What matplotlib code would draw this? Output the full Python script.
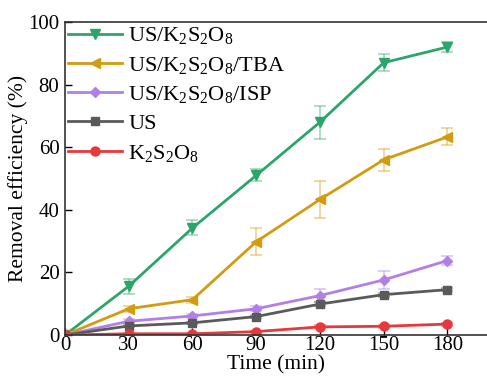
import matplotlib
matplotlib.use("Agg")
import matplotlib.pyplot as plt

plt.rcParams["font.family"] = "Liberation Serif"
plt.rcParams["mathtext.fontset"] = "custom"
plt.rcParams["mathtext.rm"] = "Liberation Serif"
plt.rcParams["mathtext.it"] = "Liberation Serif:italic"

time = [0, 30, 60, 90, 120, 150, 180]

labels = [
    r"US/K$\mathregular{_2}$S$\mathregular{_2}$O$\mathregular{_8}$",
    r"US/K$\mathregular{_2}$S$\mathregular{_2}$O$\mathregular{_8}$/TBA",
    r"US/K$\mathregular{_2}$S$\mathregular{_2}$O$\mathregular{_8}$/ISP",
    "US",
    r"K$\mathregular{_2}$S$\mathregular{_2}$O$\mathregular{_8}$",
]

us_ps = [0, 15.6, 34.2, 51.0, 68.0, 87.0, 92.0]
us_ps_err = [0, 2.4, 2.4, 1.9, 5.3, 2.8, 1.6]
us_ps_tba = [0, 8.4, 11.3, 29.8, 43.3, 56.0, 63.3]
us_ps_tba_err = [0, 1.0, 1.0, 4.3, 6.0, 3.5, 2.7]
us_ps_isp = [0, 4.4, 6.1, 8.4, 12.6, 17.6, 23.8]
us_ps_isp_err = [0, 0.6, 0.6, 0.8, 2.0, 3.0, 1.5]
us_only = [0, 2.9, 3.9, 5.9, 9.9, 12.9, 14.5]
us_only_err = [0, 0.4, 0.4, 0.5, 0.6, 0.6, 0.5]
ps_only = [0, 0.4, 0.4, 1.1, 2.6, 2.8, 3.5]
ps_only_err = [0, 0.2, 0.2, 0.3, 0.5, 0.5, 0.5]

series = [
    (us_ps, us_ps_err, "#2BA66A", "v", 7),
    (us_ps_tba, us_ps_tba_err, "#D39B12", "<", 7),
    (us_ps_isp, us_ps_isp_err, "#B27FE6", "D", 5.5),
    (us_only, us_only_err, "#5A5A5A", "s", 6),
    (ps_only, ps_only_err, "#E8383C", "o", 6.5),
]

fig = plt.figure(figsize=(4.87, 3.79), dpi=100)
ax = fig.add_axes([0.1335, 0.116, 0.866, 0.826])

for (y, err, c, m, ms), lab in zip(series, labels):
    ax.errorbar(time, y, yerr=err, fmt="none", ecolor=c, alpha=0.45,
                elinewidth=1.2, capsize=4, capthick=1.2)
    ax.plot(time, y, color=c, marker=m, markersize=ms, lw=2, label=lab)

ax.set_xlim(0, 198.5)
ax.set_ylim(0, 100)
ax.set_xticks(time)
ax.set_yticks([0, 20, 40, 60, 80, 100])
ax.tick_params(direction="in", labelsize=15, length=5, width=1)
ax.tick_params(axis="x", pad=1)
ax.tick_params(axis="y", pad=4)
ax.spines["right"].set_visible(False)
for s in ["left", "bottom", "top"]:
    ax.spines[s].set_color("#333333")
    ax.spines[s].set_linewidth(1.2)

ax.set_xlabel("Time (min)", fontsize=15.5, labelpad=0)
ax.set_ylabel("Removal efficiency (%)", fontsize=15.5, labelpad=0)

ax.legend(loc="upper left", frameon=False, fontsize=16, handlelength=2.4,
          handletextpad=0.3, labelspacing=0.38, borderaxespad=0.0,
          borderpad=0.15, bbox_to_anchor=(0.0, 1.0))

fig.savefig("out.png", dpi=100)
